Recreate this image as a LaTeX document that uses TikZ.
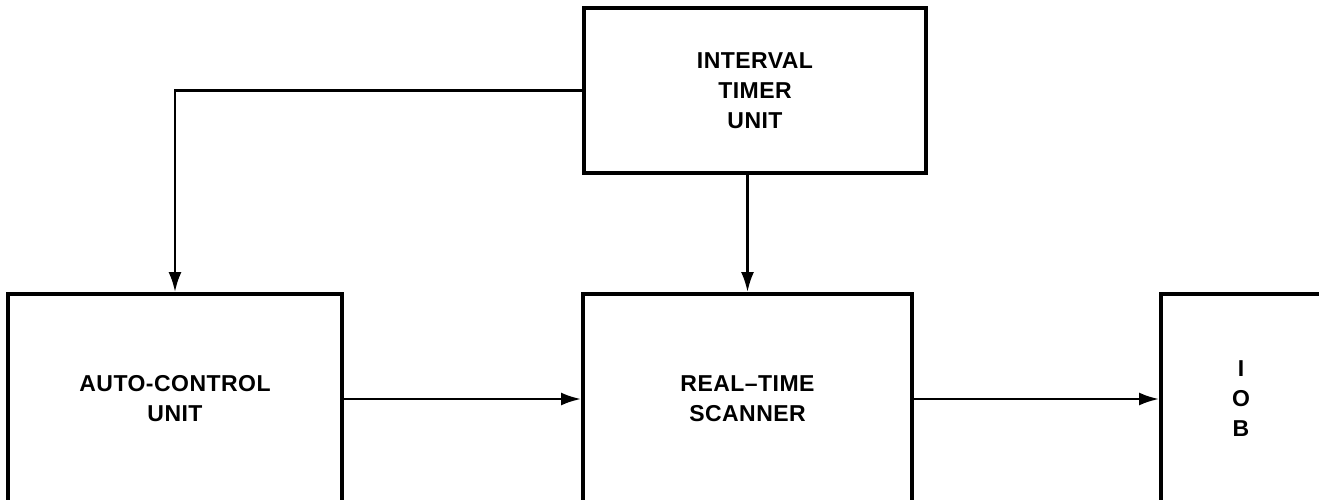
\documentclass[tikz,border=0pt]{standalone}
\usepackage{fontspec}
\setmainfont{Liberation Sans}[LetterSpace=2]
\usetikzlibrary{arrows.meta, positioning}
\tikzstyle{unit} = [draw, line width=4pt, rectangle, align=center, font=\bfseries\fontsize{23}{30}\selectfont]
\tikzstyle{link} = [draw, line width=2.5pt]

\begin{document}
\begin{tikzpicture}[auto, x=1pt, y=-1pt, >={Latex[length=20pt, width=13pt]}]

\useasboundingbox (0,0) rectangle (1319,499);
\clip (0,0) rectangle (1319,499);

\node [unit, minimum width=342pt, minimum height=165pt] (timer) at (755,90.5) {INTERVAL\\TIMER\\UNIT};
\node [unit, minimum width=334pt, minimum height=210pt] (auto) at (175,399) {AUTO-CONTROL\\UNIT};
\node [unit, minimum width=329pt, minimum height=210pt] (scanner) at (747.5,399) {REAL--TIME\\SCANNER};
\node [unit, minimum width=160pt, minimum height=210pt] (iob) at (1241,399) {I\\O\\B};

\draw [link, ->] (timer.west) -| (auto.north);
\draw [link, ->] (timer.south -| scanner.north) -- (scanner.north);
\draw [link, ->] (auto.east) -- (scanner.west);
\draw [link, ->] (scanner.east) -- (iob.west);

\end{tikzpicture}
\end{document}
